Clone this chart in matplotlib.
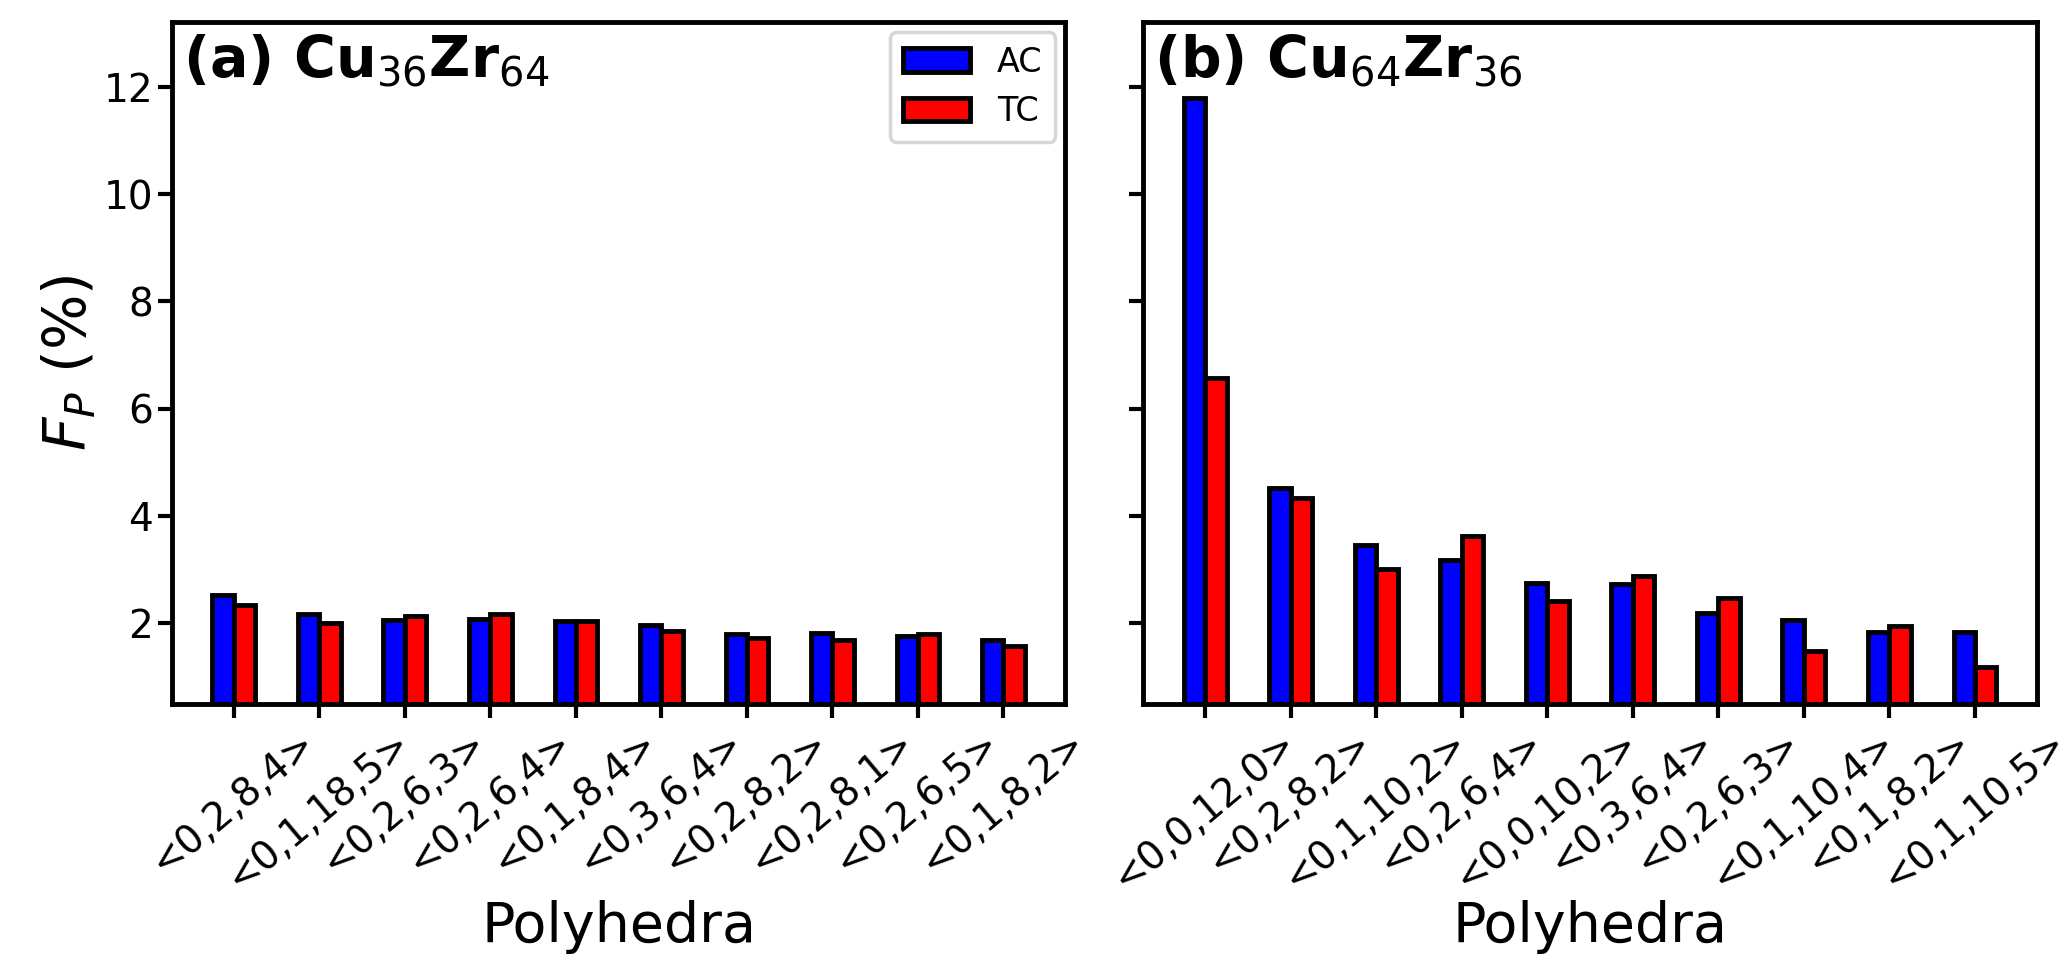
import matplotlib
matplotlib.use('Agg')
import matplotlib.pyplot as plt
import numpy as np

# polyhedra labels for each alloy
labels_a = ['<0,2,8,4>', '<0,1,18,5>', '<0,2,6,3>', '<0,2,6,4>', '<0,1,8,4>',
            '<0,3,6,4>', '<0,2,8,2>', '<0,2,8,1>', '<0,2,6,5>', '<0,1,8,2>']
labels_b = ['<0,0,12,0>', '<0,2,8,2>', '<0,1,10,2>', '<0,2,6,4>', '<0,0,10,2>',
            '<0,3,6,4>', '<0,2,6,3>', '<0,1,10,4>', '<0,1,8,2>', '<0,1,10,5>']

# fraction of polyhedra (%)
ac_a = [2.53, 2.17, 2.07, 2.09, 2.04, 1.97, 1.80, 1.82, 1.77, 1.69]
tc_a = [2.34, 2.00, 2.14, 2.17, 2.04, 1.86, 1.73, 1.70, 1.80, 1.58]
ac_b = [11.79, 4.53, 3.47, 3.18, 2.76, 2.74, 2.19, 2.07, 1.85, 1.85]
tc_b = [6.58, 4.33, 3.01, 3.63, 2.42, 2.88, 2.47, 1.49, 1.95, 1.19]

titles = ['(a) Cu$_{36}$Zr$_{64}$', '(b) Cu$_{64}$Zr$_{36}$']

w = 0.25
lw = 3.5

fig, axes = plt.subplots(1, 2, figsize=(20.7, 9.71), dpi=100, sharey=True)
fig.subplots_adjust(left=0.083, right=0.984, bottom=0.275, top=0.977, wspace=0.087)

data = [(labels_a, ac_a, tc_a), (labels_b, ac_b, tc_b)]
for i, ax in enumerate(axes):
    labs, ac, tc = data[i]
    x = np.arange(len(labs))
    ax.bar(x - w/2, ac, w, color='blue', edgecolor='black', linewidth=lw, label='AC')
    ax.bar(x + w/2, tc, w, color='red', edgecolor='black', linewidth=lw, label='TC')
    ax.set_xticks(x)
    ax.set_xticklabels(labs, rotation=40, fontsize=28)
    ax.set_xlabel('Polyhedra', fontsize=40, labelpad=2)
    ax.tick_params(axis='both', width=3, length=10)
    ax.tick_params(axis='x', pad=4)
    ax.tick_params(axis='y', labelsize=28)
    for s in ax.spines.values():
        s.set_linewidth(3.5)
    ax.text(0.012, 0.985, titles[i], transform=ax.transAxes, fontsize=41,
            fontweight='bold', va='top', ha='left')

axes[0].set_ylim(0.5, 13.2)
axes[0].set_yticks([2, 4, 6, 8, 10, 12])
axes[0].set_ylabel('$F_P$ (%)', fontsize=42)
leg = axes[0].legend(loc='upper right', fontsize=24, borderaxespad=0.3)
leg.get_frame().set_linewidth(2.5)

plt.savefig('out.png', dpi=100)
